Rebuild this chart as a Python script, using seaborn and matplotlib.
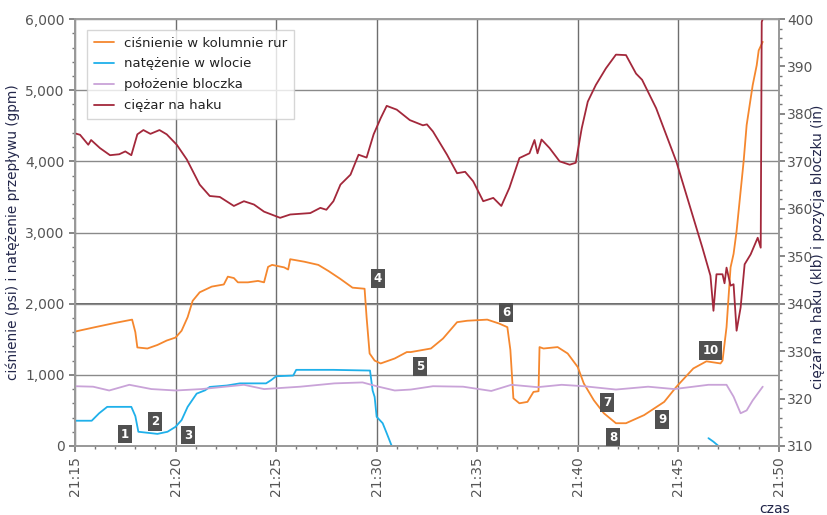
import numpy as np
import pandas as pd
import seaborn as sns
import matplotlib
matplotlib.use("Agg")
import matplotlib.pyplot as plt
from matplotlib.ticker import MultipleLocator, FuncFormatter

# czas w minutach od 21:15
t_cisn = [0, 1.0, 2.0, 2.84, 3.0, 3.1, 3.6, 4.1, 4.56, 5.0, 5.3, 5.6, 5.85, 6.2, 6.8, 7.4, 7.6,
          7.9, 8.1, 8.6, 9.1, 9.4, 9.6, 9.8, 10.4, 10.6, 10.7, 11.4, 12.1, 12.6, 13.2, 13.8,
          14.4, 14.5, 14.65, 14.9, 15.2, 15.9, 16.5, 16.7, 17.7, 18.3, 19.0, 19.5, 20.5,
          21.1, 21.5, 21.65, 21.8, 22.1, 22.5, 22.8, 23.05, 23.1, 23.3, 24.0, 24.5, 25.0,
          25.3, 25.8, 26.3, 26.9, 27.4, 28.3, 29.3, 29.9, 30.75, 31.4, 32.1, 32.2, 32.4,
          32.6, 32.75, 32.9, 33.25, 33.4, 33.7, 33.9, 34.0, 34.2]
cisnienie = [1608, 1670, 1730, 1776, 1600, 1385, 1370, 1420, 1482, 1524, 1620, 1810, 2040, 2160,
             2240, 2270, 2380, 2360, 2300, 2300, 2320, 2300, 2517, 2545, 2510, 2480, 2625, 2590,
             2545, 2460, 2347, 2225, 2210, 1810, 1300, 1200, 1160, 1230, 1320, 1320, 1370, 1510,
             1740, 1760, 1776, 1720, 1670, 1350, 670, 600, 620, 760, 770, 1390, 1370, 1390, 1300,
             1110, 880, 643, 460, 320, 320, 434, 620, 830, 1090, 1190, 1160, 1200, 1670, 2510,
             2700, 3020, 4000, 4510, 5070, 5350, 5560, 5680]

t_nat = [0, 0.83, 1.2, 1.6, 2.8, 3.0, 3.15, 4.1, 4.6, 5.0, 5.3, 5.6, 6.05, 6.47, 6.7, 7.55,
         8.2, 9.5, 9.75, 10.0, 10.85, 11.0, 12.85, 14.67, 14.8, 14.9, 15.0, 15.3, 15.5, 15.75,
         16.4]
natezenie = [355, 355, 460, 550, 550, 420, 200, 170, 200, 270, 364, 550, 736, 783, 830, 850,
             880, 880, 925, 980, 990, 1070, 1070, 1060, 780, 690, 410, 320, 180, 0, 0]
t_nat2 = [31.5, 31.75, 32.0, 32.25]
natezenie2 = [110, 60, 0, 0]

t_bloc = [0, 0.9, 1.7, 2.7, 3.8, 5.0, 6.3, 8.4, 9.4, 11.2, 12.9, 14.3, 15.0, 15.9, 16.7,
          17.8, 19.3, 20.7, 21.7, 23.0, 24.2, 25.3, 26.9, 28.5, 29.8, 31.5, 32.4, 32.75,
          33.1, 33.4, 33.7, 34.2]
bloczek = [322.6, 322.5, 321.7, 322.9, 322.0, 321.7, 322.0, 322.9, 322.0, 322.5, 323.2, 323.4,
           322.6, 321.7, 321.9, 322.6, 322.5, 321.6, 322.9, 322.4, 322.9, 322.6, 321.9, 322.5,
           322.0, 322.9, 322.9, 320.4, 316.9, 317.5, 319.6, 322.5]

t_hak = [0, 0.25, 0.66, 0.8, 1.24, 1.74, 2.2, 2.5, 2.8, 3.1, 3.4, 3.75, 4.2, 4.56, 5.06, 5.56,
         6.2, 6.7, 7.2, 7.9, 8.4, 8.9, 9.4, 10.2, 10.7, 11.7, 12.2, 12.5, 12.85, 13.2, 13.7,
         14.1, 14.5, 14.85, 15.2, 15.5, 16.0, 16.65, 17.3, 17.5, 17.8, 18.5, 19.0, 19.4, 19.8,
         20.3, 20.8, 21.2, 21.6, 22.1, 22.6, 22.85, 23.0, 23.2, 23.6, 24.1, 24.6, 24.9, 25.2,
         25.5, 25.9, 26.4, 26.9, 27.4, 27.9, 28.2, 28.9, 29.9, 30.7, 31.2, 31.6, 31.75, 31.9,
         32.2, 32.3, 32.4, 32.6, 32.75, 32.9, 33.1, 33.3, 33.6, 33.95, 34.1, 34.15, 34.2]
hak = [375.9, 375.6, 373.5, 374.5, 372.8, 371.3, 371.5, 372.1, 371.3, 375.7, 376.6, 375.8, 376.6,
       375.7, 373.5, 370.4, 365.1, 362.7, 362.5, 360.6, 361.6, 360.9, 359.4, 358.1, 358.8, 359.1,
       360.2, 359.8, 361.6, 365.1, 367.2, 371.4, 370.8, 375.7, 379.1, 381.7, 380.9, 378.7, 377.6,
       377.8, 376.3, 371.4, 367.5, 367.8, 365.8, 361.6, 362.3, 360.6, 364.4, 370.7, 371.7, 374.5,
       371.7, 374.6, 372.8, 370.0, 369.3, 369.7, 377.0, 382.6, 386.1, 389.6, 392.5, 392.4, 388.5,
       387.2, 381.2, 370.0, 358.8, 351.8, 345.9, 338.5, 346.2, 346.2, 344.3, 347.6, 343.8, 344.1,
       334.3, 339.2, 348.3, 350.4, 353.9, 351.8, 399.4, 400.0]

# numerowane znaczniki
znaczniki = ["1", "2", "3", "4", "5", "6", "7", "8", "9", "10"]
znacz_t = [2.49, 3.98, 5.62, 15.07, 17.16, 21.44, 26.47, 26.77, 29.2, 31.6]
znacz_v = [168, 350, 154, 2350, 1120, 1874, 615, 126, 378, 1343]

x_ticks = [0, 5, 10, 15, 20, 25, 30, 35]
x_labels = ["21:15", "21:20", "21:25", "21:30", "21:35", "21:40", "21:45", "21:50"]

sns.set_theme(style="white")
plt.rcParams["font.family"] = ["DejaVu Sans"]

fig = plt.figure(figsize=(8.28, 5.15), dpi=100)
ax = fig.add_axes([0.0906, 0.134, 0.850, 0.829])
ax2 = ax.twinx()

c_or, c_bl, c_pu, c_rd = "#f5872e", "#1fb0ea", "#c9a3d8", "#a3283b"

sns.lineplot(x=t_cisn, y=cisnienie, ax=ax, color=c_or, lw=1.3, label="ciśnienie w kolumnie rur")
sns.lineplot(x=t_nat, y=natezenie, ax=ax, color=c_bl, lw=1.3, label="natężenie w wlocie")
sns.lineplot(x=t_nat2, y=natezenie2, ax=ax, color=c_bl, lw=1.3)
sns.lineplot(x=t_bloc, y=bloczek, ax=ax2, color=c_pu, lw=1.3, label="położenie bloczka")
sns.lineplot(x=t_hak, y=hak, ax=ax2, color=c_rd, lw=1.3, label="ciężar na haku")

ax.set_xlim(0, 35)
ax.set_ylim(0, 6000)
ax2.set_ylim(310, 400)

ax.set_xticks(x_ticks)
ax.set_xticklabels(x_labels, rotation=90)
ax.xaxis.set_minor_locator(MultipleLocator(1))
ax.yaxis.set_major_locator(MultipleLocator(1000))
ax.yaxis.set_minor_locator(MultipleLocator(200))
ax.yaxis.set_major_formatter(FuncFormatter(lambda v, _: f"{v:,.0f}"))
ax2.yaxis.set_major_locator(MultipleLocator(10))
ax2.yaxis.set_minor_locator(MultipleLocator(2))

ax.grid(True, which="major", axis="x", color="#6e6e6e", lw=1.0)
ax.grid(True, which="major", axis="y", color="#8a8a8a", lw=1.0)
ax.axhline(2000, color="#5a5a5a", lw=1.3, zorder=0.5)
ax.set_axisbelow(True)

for a in (ax, ax2):
    a.tick_params(axis="both", which="both", direction="out", colors="#777777",
                  labelcolor="#555555", labelsize=10)
    a.tick_params(which="major", length=4)
    a.tick_params(which="minor", length=2.5)
    for s in a.spines.values():
        s.set_color("#999999")
ax.spines["top"].set_color("#cccccc")
ax.tick_params(axis="x", which="both", bottom=True)
ax.tick_params(axis="y", which="both", left=True)
ax2.tick_params(axis="y", which="both", right=True, pad=2)

ax.set_ylabel("ciśnienie (psi) i natężenie przepływu (gpm)", color="#22264a", fontsize=9.8, labelpad=4)
ax2.set_ylabel("")
fig.text(0.9885, 0.52, "ciężar na haku (klb) i pozycja bloczku (in)", rotation=90,
         ha="center", va="center", color="#22264a", fontsize=9.8)

for lab, tx, vy in zip(znaczniki, znacz_t, znacz_v):
    ax2.text(tx, vy, lab, transform=ax.transData, ha="center", va="center", color="white",
             fontsize=8.5, fontweight="bold", zorder=10,
             bbox=dict(boxstyle="square,pad=0.25", fc="#505050", ec="none"))

h1, l1 = ax.get_legend_handles_labels()
h2, l2 = ax2.get_legend_handles_labels()
if ax.get_legend():
    ax.get_legend().remove()
leg = ax2.legend(h1 + h2, l1 + l2, loc="upper left", bbox_to_anchor=(0.008, 0.99),
                 fontsize=9.5, frameon=True, fancybox=False, handlelength=1.5,
                 borderpad=0.5, labelspacing=0.6)
leg.get_frame().set_edgecolor("#cccccc")
leg.get_frame().set_linewidth(1.0)
for txt in leg.get_texts():
    txt.set_color("#222222")

fig.text(0.935, 0.026, "czas", ha="center", va="top", color="#22264a", fontsize=10)

fig.savefig("out.png", dpi=100)
